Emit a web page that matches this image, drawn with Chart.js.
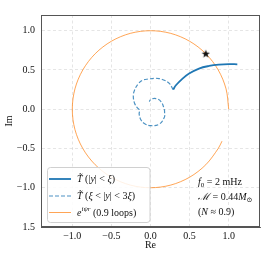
<!DOCTYPE html>
<html><head><meta charset="utf-8">
<script src="https://cdn.jsdelivr.net/npm/chart.js@4/dist/chart.umd.min.js"></script>
<style>html,body{margin:0;padding:0;background:#fff}canvas{display:block}</style>
</head><body>
<canvas id="c" width="266" height="266"></canvas>
<script>
// ---- data ----
const circleX = [1.000,0.966,0.866,0.707,0.500,0.259,0.000,-0.259,-0.500,-0.707,-0.866,-0.966,-1.000,-0.966,-0.866,-0.707,-0.500,-0.259,0.000,0.259,0.500,0.707,0.866,0.914];
const circleY = [0.000,0.259,0.500,0.707,0.866,0.966,1.000,0.966,0.866,0.707,0.500,0.259,0.000,-0.259,-0.500,-0.707,-0.866,-0.966,-1.000,-0.966,-0.866,-0.707,-0.500,-0.407];
const outerX = [0.29,0.24,0.176,0.11,0.048,-0.02,-0.10,-0.16,-0.205,-0.22,-0.205,-0.17,-0.14,-0.145,-0.125,-0.079,0.006,0.112,0.176,0.18,0.176,0.134,0.07,0.006,-0.015];
const outerY = [0.25,0.33,0.37,0.39,0.394,0.385,0.37,0.32,0.24,0.17,0.08,0.02,-0.01,-0.06,-0.13,-0.182,-0.21,-0.19,-0.106,-0.04,0.0,0.098,0.136,0.127,0.098];
const innerX = [0.29,0.325,0.41,0.494,0.62,0.75,0.876,1.0,1.11];
const innerY = [0.25,0.305,0.39,0.454,0.518,0.551,0.568,0.575,0.572];
const starX = [0.707];
const starY = [0.707];
const xTicks = [-1.0,-0.5,0.0,0.5,1.0];
const xTickLabels = ['\u22121.0','\u22120.5','0.0','0.5','1.0'];
const yTicks = [-1.5,-1.0,-0.5,0.0,0.5,1.0];
const yTickLabels = ['1.5','\u22121.0','\u22120.5','0.0','0.5','1.0'];
const legendLabels = [
  [['T\u0303','i'],[' (|','n'],['y','i'],['| < ','n'],['\u03BE','i'],[')','n']],
  [['T\u0303','i'],[' (','n'],['\u03BE','i'],[' < |','n'],['y','i'],['| < 3','n'],['\u03BE','i'],[')','n']],
  [['e','i'],['i\u03C8r','supi'],[' (0.9 loops)','n']]
];
const noteLines = [
  [['f','i'],['0','sub'],[' = 2 mHz','n']],
  [['\u2133','i'],[' = 0.44','n'],['M','i'],['\u2299','sub']],
  [['(','n'],['N','i'],[' \u2248 0.9)','n']]
];

const zip = (a,b)=>a.map((v,i)=>({x:v,y:b[i]}));
const FONT = '"Liberation Serif","DejaVu Serif",serif';

// star marker
const starCanvas = document.createElement('canvas');
starCanvas.width = 10; starCanvas.height = 10;
(function(){
  const c = starCanvas.getContext('2d');
  c.fillStyle = '#111';
  c.beginPath();
  for (let k=0;k<10;k++){
    const r = k%2===0 ? 4.3 : 1.8;
    const a = -Math.PI/2 + k*Math.PI/5;
    const px = 5 + r*Math.cos(a), py = 5.3 + r*Math.sin(a);
    k===0 ? c.moveTo(px,py) : c.lineTo(px,py);
  }
  c.closePath(); c.fill();
})();

function drawRich(ctx, x, y, runs, size){
  let cx = x;
  ctx.textBaseline = 'middle';
  ctx.textAlign = 'left';
  for (const [t,s] of runs){
    let fs = size, dy = 0;
    const it = s.indexOf('i') >= 0 && s !== 'sub' ? true : false;
    if (s.startsWith('sup')) { fs = size*0.7; dy = -size*0.38; }
    if (s === 'sub') { fs = size*0.7; dy = size*0.25; }
    ctx.font = (it ? 'italic ' : '') + fs + 'px ' + FONT;
    ctx.fillText(t, cx, y+dy);
    cx += ctx.measureText(t).width;
  }
}

const overlay = {
  id:'overlay',
  afterDraw(chart){
    const ctx = chart.ctx, a = chart.chartArea;
    ctx.save();
    // frame
    ctx.strokeStyle = '#555'; ctx.lineWidth = 1;
    ctx.strokeRect(a.left+0.5, a.top+0.5, a.right-a.left-1, a.bottom-a.top-1);
    // legend box
    const bx = 47.5, by = 167.5, bw = 102.5, bh = 55, r = 3;
    ctx.beginPath();
    ctx.moveTo(bx+r,by); ctx.lineTo(bx+bw-r,by); ctx.quadraticCurveTo(bx+bw,by,bx+bw,by+r);
    ctx.lineTo(bx+bw,by+bh-r); ctx.quadraticCurveTo(bx+bw,by+bh,bx+bw-r,by+bh);
    ctx.lineTo(bx+r,by+bh); ctx.quadraticCurveTo(bx,by+bh,bx,by+bh-r);
    ctx.lineTo(bx,by+r); ctx.quadraticCurveTo(bx,by,bx+r,by); ctx.closePath();
    ctx.fillStyle = 'rgba(255,255,255,0.85)'; ctx.fill();
    ctx.strokeStyle = '#d0d0d0'; ctx.lineWidth = 1; ctx.stroke();
    const rows = [179, 196, 212.5];
    const ds = chart.data.datasets;
    [0,1,2].forEach((di, i)=>{
      const d = ds[di];
      ctx.beginPath();
      ctx.setLineDash(d.borderDash || []);
      ctx.strokeStyle = d.borderColor; ctx.lineWidth = d.borderWidth;
      ctx.moveTo(49, rows[i]); ctx.lineTo(71, rows[i]); ctx.stroke();
      ctx.setLineDash([]);
      ctx.fillStyle = '#111';
      drawRich(ctx, 77, rows[i]+0.5, legendLabels[i], 10);
    });
    const nrows = [182.7, 197.3, 212.7];
    noteLines.forEach((ln,i)=>{ ctx.fillStyle='#111'; drawRich(ctx, 198, nrows[i], ln, 10); });
    ctx.restore();
  }
};

new Chart(document.getElementById('c'), {
  type:'scatter',
  data:{datasets:[
    {label:'T (|y|<xi)', data:zip(innerX,innerY), showLine:true, borderColor:'#1f77b4', borderWidth:1.8, pointRadius:0, tension:0.4, order:2},
    {label:'T (xi<|y|<3xi)', data:zip(outerX,outerY), showLine:true, borderColor:'rgba(31,119,180,0.8)', borderWidth:1.2, borderDash:[4,2], pointRadius:0, tension:0.4, order:3},
    {label:'e^{i psi r} (0.9 loops)', data:zip(circleX,circleY), showLine:true, borderColor:'rgba(255,127,14,0.7)', borderWidth:1, pointRadius:0, tension:0.33, order:4},
    {label:'star', data:zip(starX,starY), showLine:false, pointStyle:starCanvas, pointRadius:5, order:1}
  ]},
  options:{
    responsive:false, animation:false, devicePixelRatio:1,
    layout:{padding:{top:15,right:5,left:0,bottom:0}},
    plugins:{legend:{display:false}, tooltip:{enabled:false}},
    scales:{
      x:{type:'linear', min:-1.4, max:1.4,
        afterBuildTicks:s=>{s.ticks = xTicks.map(v=>({value:v}));},
        afterFit:s=>{s.height = 39;},
        grid:{color:'rgba(0,0,0,0.13)', lineWidth:0.8, drawTicks:false},
        border:{display:true, color:'#555', width:1, dash:[3,2.5]},
        ticks:{padding:3, color:'#111', font:{family:FONT, size:10}, maxRotation:0,
          callback:(v)=>{const i = xTicks.indexOf(v); return i>=0 ? xTickLabels[i] : '';}},
        title:{display:true, text:'Re', color:'#111', font:{family:FONT, size:10}, padding:{top:0,bottom:15}}
      },
      y:{type:'linear', min:-1.5, max:1.2,
        afterBuildTicks:s=>{s.ticks = yTicks.map(v=>({value:v}));},
        afterFit:s=>{s.width = 41;},
        grid:{color:'rgba(0,0,0,0.13)', lineWidth:0.8, drawTicks:false},
        border:{display:true, color:'#555', width:1, dash:[3,2.5]},
        ticks:{padding:6, color:'#111', font:{family:FONT, size:10},
          callback:(v)=>{const i = yTicks.indexOf(v); return i>=0 ? yTickLabels[i] : '';}},
        title:{display:true, text:'Im', color:'#111', font:{family:FONT, size:10}, padding:{top:3,bottom:0}}
      }
    }
  },
  plugins:[overlay]
});
</script>
</body></html>
